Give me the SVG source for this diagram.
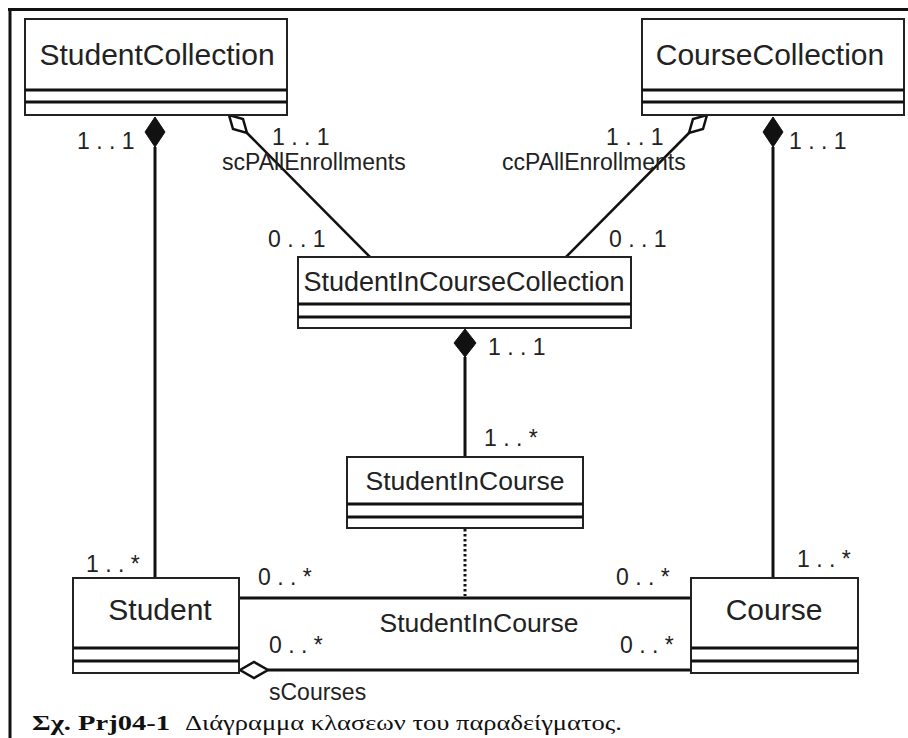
<svg xmlns="http://www.w3.org/2000/svg" width="908" height="738" viewBox="0 0 908 738">
<style>
.box{fill:#fff;stroke:#222;stroke-width:2}
.sep{stroke:#111;stroke-width:3}
.name{font-family:Arial,"Liberation Sans",Helvetica,sans-serif;fill:#222;text-anchor:middle}
.lbl{font-family:Arial,"Liberation Sans",Helvetica,sans-serif;font-size:23px;fill:#222}
.conn{stroke:#111;stroke-width:3;fill:none}
.agg{stroke:#111;stroke-width:2.5;fill:none}
.comp{fill:#111;stroke:#111;stroke-width:1}
.hollow{fill:#fff;stroke:#111;stroke-width:2.5;stroke-linejoin:miter}
.cap{font-family:"Times New Roman","Liberation Serif",serif;font-size:20px;fill:#111}
</style>
<rect width="908" height="738" fill="#fff"/>
<line x1="8" y1="9.5" x2="908" y2="9.5" stroke="#111" stroke-width="3"/>
<line x1="10" y1="8" x2="10" y2="738" stroke="#111" stroke-width="3"/>

<g id="connectors">
<line class="conn" x1="155" y1="147" x2="155" y2="578"/>
<line class="conn" x1="773" y1="147" x2="773" y2="578"/>
<line class="agg" x1="247" y1="133" x2="370" y2="257"/>
<line class="agg" x1="689" y1="133" x2="566" y2="257"/>
<line class="conn" x1="465" y1="357" x2="465" y2="457"/>
<line class="conn" x1="239" y1="598" x2="691" y2="598"/>
<line class="conn" x1="268" y1="670" x2="691" y2="670"/>
<line x1="465" y1="529" x2="465" y2="596" stroke="#111" stroke-width="3" stroke-dasharray="2.5 2.5"/>
<polygon class="comp" points="155,117 165,132 155,147 145,132"/>
<polygon class="comp" points="773,117 783,132 773,147 763,132"/>
<polygon class="comp" points="465,329 476,343 465,357 454,343"/>
<polygon class="hollow" points="229,115 243,119 247,133 233,129"/>
<polygon class="hollow" points="707,115 703,129 689,133 693,119"/>
<polygon class="hollow" points="240,670 254,662 268,670 254,678"/>
<text class="lbl" x="77" y="149" xml:space="preserve">1 . . 1</text>
<text class="lbl" x="272" y="145" xml:space="preserve">1 . . 1</text>
<text class="lbl" x="222" y="170">scPAllEnrollments</text>
<text class="lbl" x="606" y="145" xml:space="preserve">1 . . 1</text>
<text class="lbl" x="502" y="170">ccPAllEnrollments</text>
<text class="lbl" x="789" y="149" xml:space="preserve">1 . . 1</text>
<text class="lbl" x="268" y="247" xml:space="preserve">0 . . 1</text>
<text class="lbl" x="609" y="247" xml:space="preserve">0 . . 1</text>
<text class="lbl" x="488" y="355" xml:space="preserve">1 . . 1</text>
<text class="lbl" x="484" y="446" xml:space="preserve">1 . . *</text>
<text class="lbl" x="86" y="572" xml:space="preserve">1 . . *</text>
<text class="lbl" x="797" y="567" xml:space="preserve">1 . . *</text>
<text class="lbl" x="258" y="585" xml:space="preserve">0 . . *</text>
<text class="lbl" x="616" y="585" xml:space="preserve">0 . . *</text>
<text class="lbl" x="269" y="653" xml:space="preserve">0 . . *</text>
<text class="lbl" x="620" y="653" xml:space="preserve">0 . . *</text>
<text class="lbl" x="269" y="700">sCourses</text>
<text class="name" x="479" y="632" font-size="26.5">StudentInCourse</text>
</g>

<g id="StudentCollection">
<rect class="box" x="25" y="19" width="262" height="96"/>
<line class="sep" x1="25" y1="90" x2="287" y2="90"/>
<line class="sep" x1="25" y1="102" x2="287" y2="102"/>
<text class="name" x="157" y="65" font-size="30">StudentCollection</text>
</g>

<g id="CourseCollection">
<rect class="box" x="642" y="19" width="262" height="96"/>
<line class="sep" x1="642" y1="90" x2="904" y2="90"/>
<line class="sep" x1="642" y1="102" x2="904" y2="102"/>
<text class="name" x="770" y="65" font-size="30">CourseCollection</text>
</g>

<g id="StudentInCourseCollection">
<rect class="box" x="298" y="257" width="333" height="71"/>
<line class="sep" x1="298" y1="304" x2="631" y2="304"/>
<line class="sep" x1="298" y1="317" x2="631" y2="317"/>
<text class="name" x="464" y="291" font-size="27">StudentInCourseCollection</text>
</g>

<g id="StudentInCourse">
<rect class="box" x="347" y="457" width="236" height="71"/>
<line class="sep" x1="347" y1="504" x2="583" y2="504"/>
<line class="sep" x1="347" y1="517" x2="583" y2="517"/>
<text class="name" x="465" y="490" font-size="26.5">StudentInCourse</text>
</g>

<g id="Student">
<rect class="box" x="73" y="578" width="166" height="95"/>
<line class="sep" x1="73" y1="648" x2="239" y2="648"/>
<line class="sep" x1="73" y1="661" x2="239" y2="661"/>
<text class="name" x="160" y="620" font-size="30">Student</text>
</g>

<g id="Course">
<rect class="box" x="691" y="578" width="167" height="95"/>
<line class="sep" x1="691" y1="648" x2="858" y2="648"/>
<line class="sep" x1="691" y1="661" x2="858" y2="661"/>
<text class="name" x="774" y="620" font-size="30">Course</text>
</g>

<g id="caption">
<text class="cap" x="32" y="730" font-weight="bold" textLength="138" lengthAdjust="spacingAndGlyphs">Σχ. Prj04-1</text>
<text class="cap" x="185" y="730" textLength="437" lengthAdjust="spacingAndGlyphs">Διάγραμμα κλασεων του παραδείγματος.</text>
</g>
</svg>
